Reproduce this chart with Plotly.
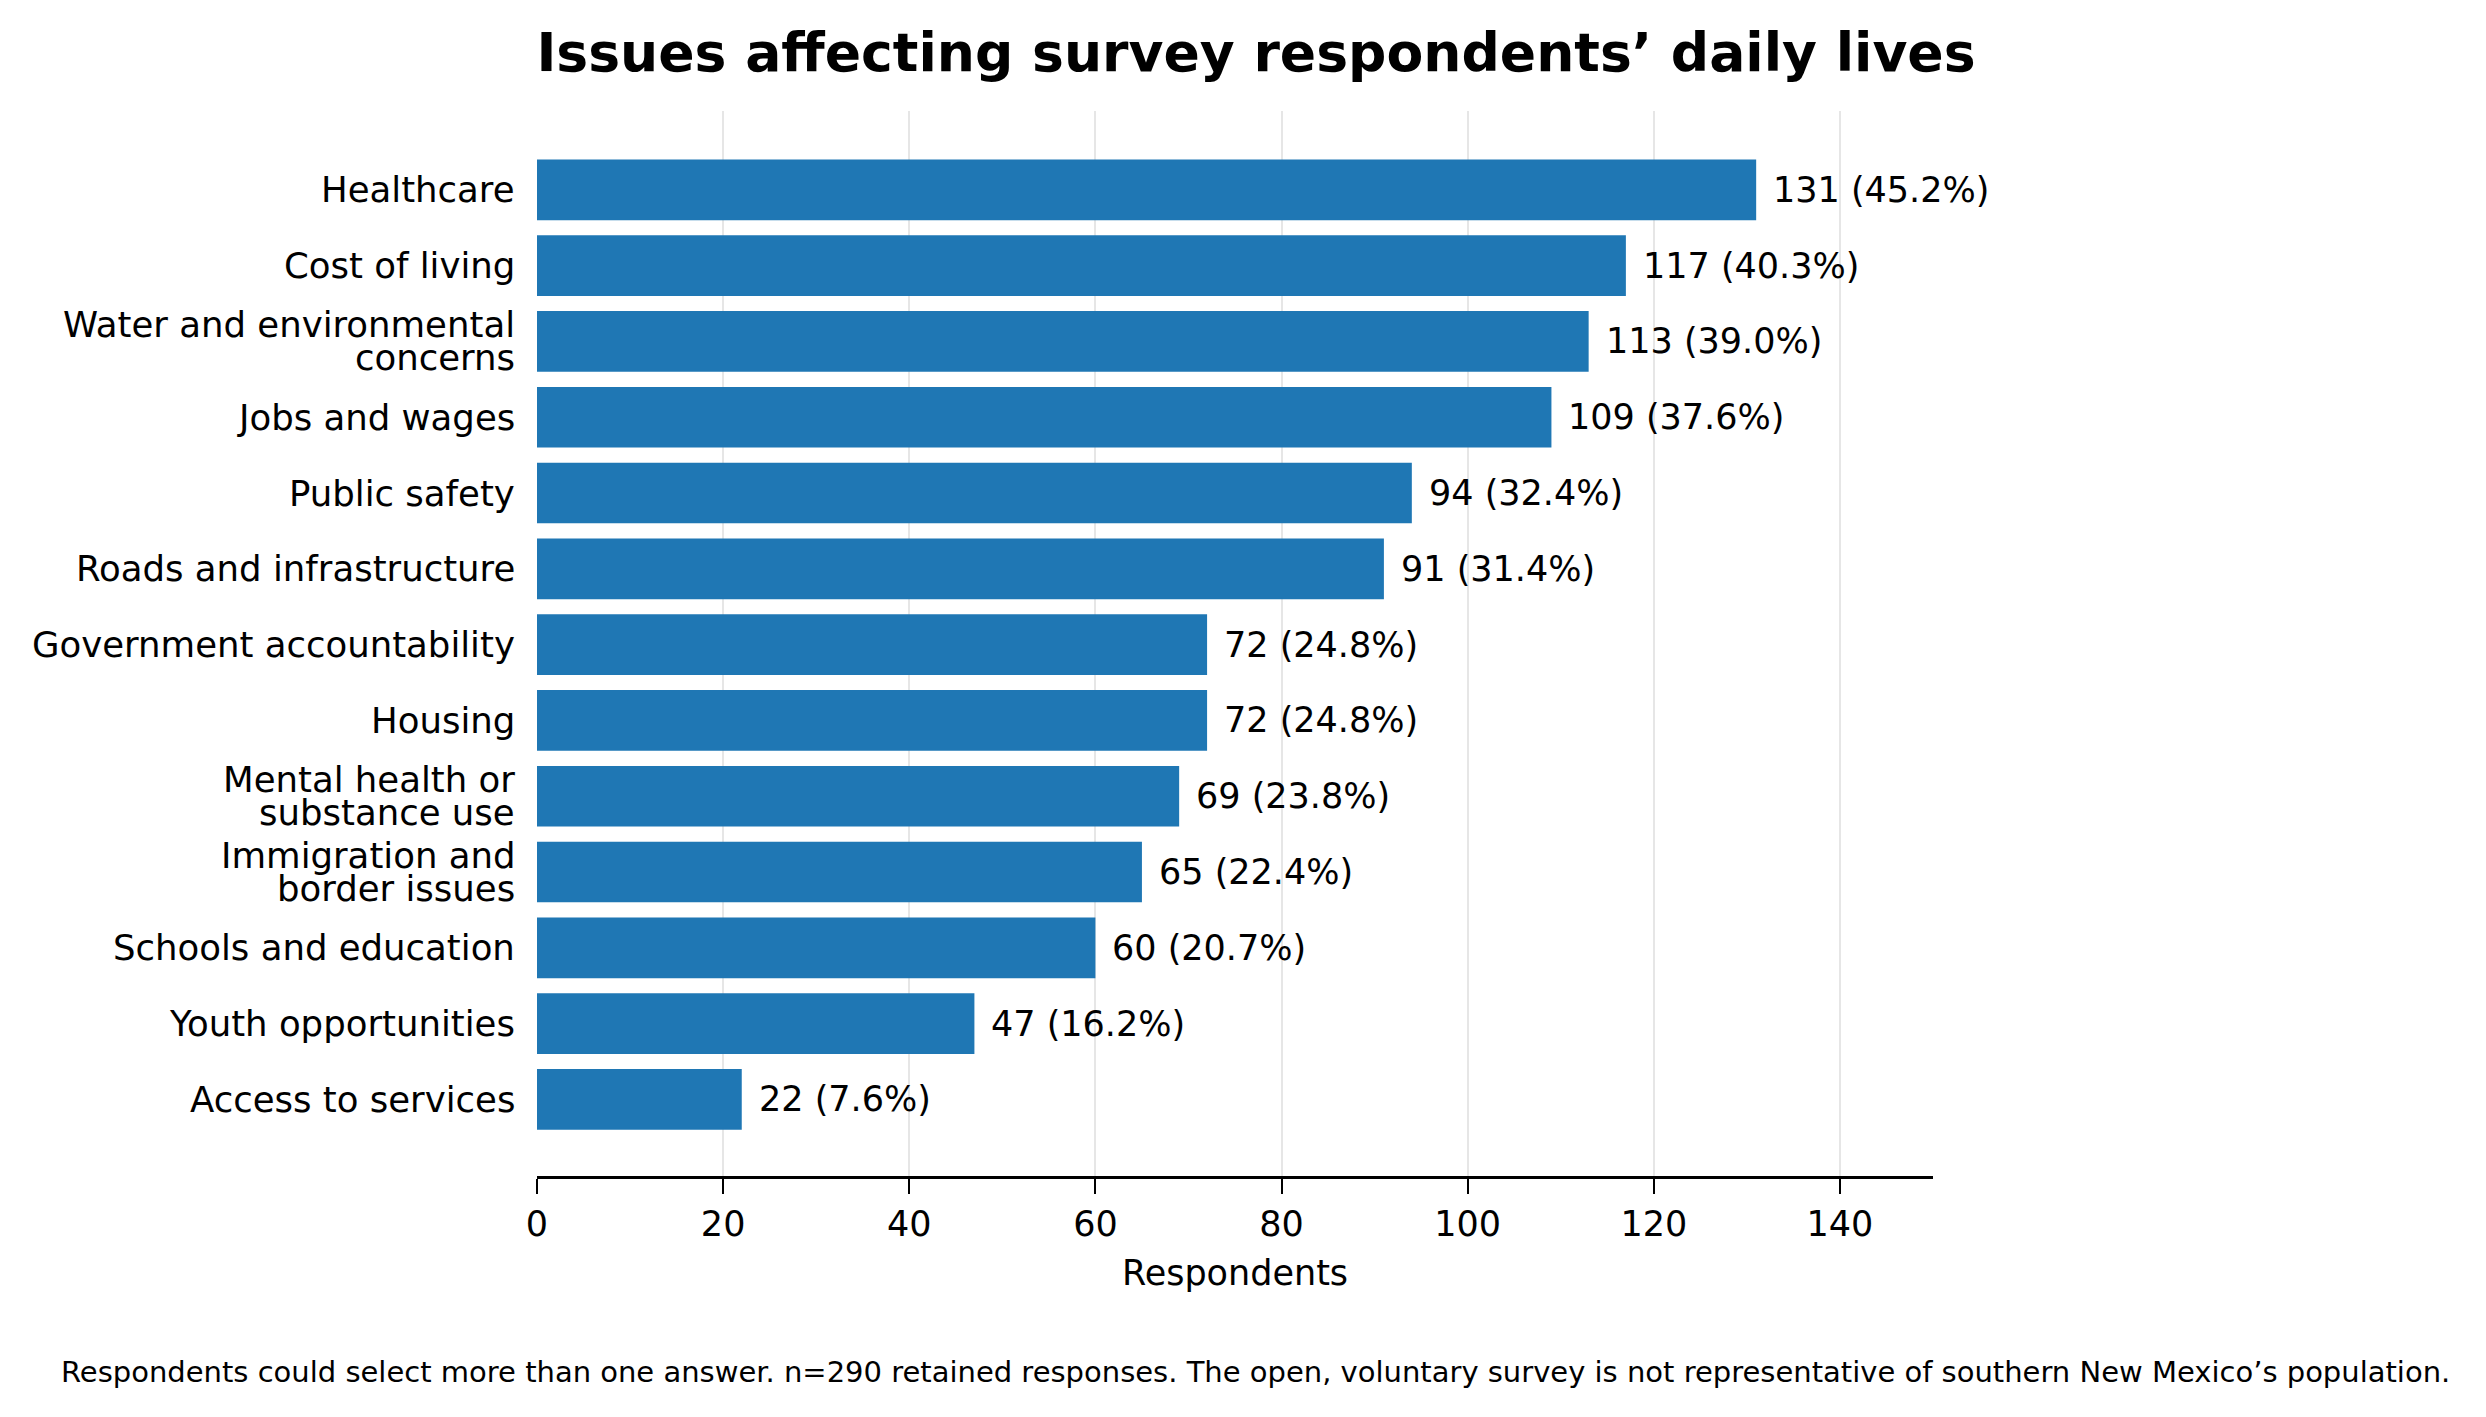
import plotly.graph_objects as go

# ---- data (top to bottom) ----
categories = [
    "Healthcare",
    "Cost of living",
    "Water and environmental\nconcerns",
    "Jobs and wages",
    "Public safety",
    "Roads and infrastructure",
    "Government accountability",
    "Housing",
    "Mental health or\nsubstance use",
    "Immigration and\nborder issues",
    "Schools and education",
    "Youth opportunities",
    "Access to services",
]
respondents = [131, 117, 113, 109, 94, 91, 72, 72, 69, 65, 60, 47, 22]
percents = [45.2, 40.3, 39.0, 37.6, 32.4, 31.4, 24.8, 24.8, 23.8, 22.4, 20.7, 16.2, 7.6]
x_ticks = [0, 20, 40, 60, 80, 100, 120, 140]

title_text = "Issues affecting survey respondents’ daily lives"
x_title = "Respondents"
footnote = ("Respondents could select more than one answer. n=290 retained responses. "
            "The open, voluntary survey is not representative of southern New Mexico’s population.")

# ---- layout constants (pixels) ----
W, H = 2486, 1417
L, R, T, B = 537, 1933, 111, 1176
FONT = "DejaVu Sans"
CAT_SIZE = 35.5
LBL = 35
BLUE = "#1f77b4"

fig = go.Figure()
fig.add_trace(go.Bar(
    x=respondents,
    y=categories,
    orientation="h",
    width=0.8,
    marker=dict(color=BLUE, line=dict(width=0)),
    hoverinfo="skip",
))

annotations = []
# category labels (right aligned, multi-line with tight spacing)
line_gap = 33
for cat in categories:
    lines = cat.split("\n")
    n = len(lines)
    for k, ln in enumerate(lines):
        off = ((n - 1) / 2 - k) * line_gap
        annotations.append(dict(
            text=ln, xref="paper", x=0, xshift=-20, xanchor="right",
            yref="y", y=cat, yshift=off, yanchor="middle",
            showarrow=False, font=dict(family=FONT, size=CAT_SIZE, color="black"),
        ))
# value labels
for cat, v, p in zip(categories, respondents, percents):
    annotations.append(dict(
        text=f"{v} ({p:.1f}%)", xref="x", x=v, xshift=15, xanchor="left",
        yref="y", y=cat, yanchor="middle",
        showarrow=False, font=dict(family=FONT, size=LBL, color="black"),
    ))
# footnote
pw, ph = R - L, B - T
annotations.append(dict(
    text=footnote, xref="paper", x=(1255 - L) / pw, xanchor="center",
    yref="paper", y=(B - 1372) / ph, yanchor="middle",
    showarrow=False, font=dict(family=FONT, size=29, color="black"),
))

fig.update_layout(
    width=W, height=H,
    margin=dict(l=L, r=W - R, t=T, b=H - B, pad=0),
    paper_bgcolor="white", plot_bgcolor="white",
    showlegend=False,
    title=dict(
        text=f"<b>{title_text}</b>", xref="container", x=1256 / W, xanchor="center",
        yref="container", y=1 - 52 / H, yanchor="middle",
        font=dict(family=FONT, size=53.6, color="black"),
    ),
    annotations=annotations,
    xaxis=dict(
        range=[0, 150], tickvals=x_ticks, ticktext=[str(t) for t in x_ticks],
        showgrid=True, gridcolor="#e6e6e6", gridwidth=1.5, zeroline=False,
        showline=True, linecolor="black", linewidth=2.7,
        ticks="outside", ticklen=15, tickwidth=2, tickcolor="black",
        tickfont=dict(family=FONT, size=LBL, color="black"),
        title=dict(text=x_title, font=dict(family=FONT, size=LBL, color="black"), standoff=18),
    ),
    yaxis=dict(
        categoryorder="array", categoryarray=categories,
        range=[len(categories) - 1 + 1.01, -1.04],
        showticklabels=False, ticks="", showgrid=False, zeroline=False, showline=False,
    ),
    font=dict(family=FONT, size=LBL, color="black"),
)

fig.write_html("out.html")
